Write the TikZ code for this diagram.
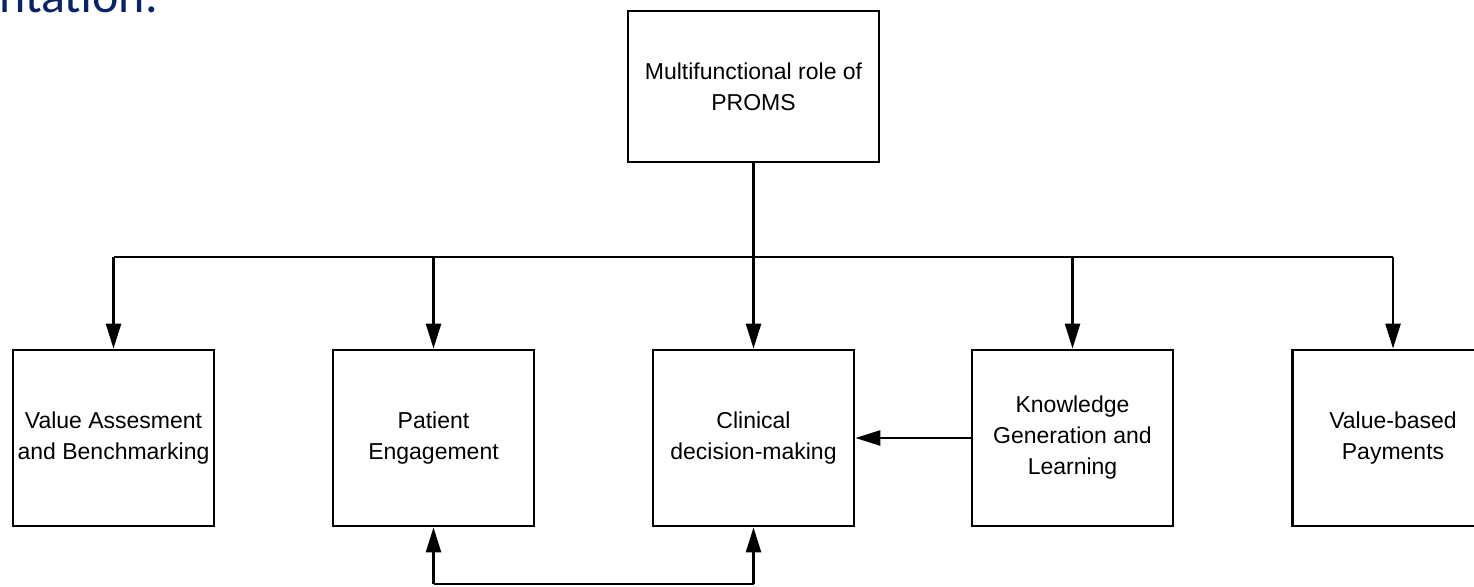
\documentclass[tikz,border=0pt]{standalone}
\usepackage{fontspec}
\setmainfont{Liberation Sans}
\newfontfamily\titlefont{Carlito}
\usetikzlibrary{arrows.meta}
\definecolor{navy}{RGB}{10,36,99}
\tikzset{
  box/.style={draw=black, line width=2.8pt, minimum width=201pt, minimum height=176pt,
    align=center, inner sep=0pt, font=\fontsize{23}{31}\selectfont},
  conn/.style={draw=black, line width=2.6pt},
  arr/.style={conn, -{Triangle[length=25pt,width=15pt]}},
}
\begin{document}
\begin{tikzpicture}[x=1pt,y=-1pt]
\useasboundingbox (0,0) rectangle (1474,586);
\node[anchor=base west, inner sep=0pt, text=navy, font=\titlefont\fontsize{50}{60}\selectfont] (title) at (-1,13) {ntation.};
\node[box, minimum width=251pt, minimum height=151pt] (top) at (753.5,86.5) {Multifunctional role of\\PROMS};
\node[box] (b1) at (113.5,438) {Value Assesment\\and Benchmarking};
\node[box] (b2) at (433.5,438) {Patient\\Engagement};
\node[box] (b3) at (753.5,438) {Clinical\\decision-making};
\node[box] (b4) at (1072.5,438) {Knowledge\\Generation and\\Learning};
\node[box] (b5) at (1393,438) {Value-based\\Payments};
\coordinate (bus) at (753.5,257);
\coordinate (low) at (0,584);
\draw[conn] (top.south) -- (bus);
\draw[conn] (b1.north |- bus) -- (b5.north |- bus);
\foreach \n in {b1,b2,b3,b4,b5} {
  \draw[arr] (\n.north |- bus) -- (\n.north);
}
\draw[arr] (b4.west) -- (b3.east);
\draw[conn] (b2.south |- low) -- (b3.south |- low);
\draw[arr] (b2.south |- low) -- (b2.south);
\draw[arr] (b3.south |- low) -- (b3.south);
\end{tikzpicture}
\end{document}
